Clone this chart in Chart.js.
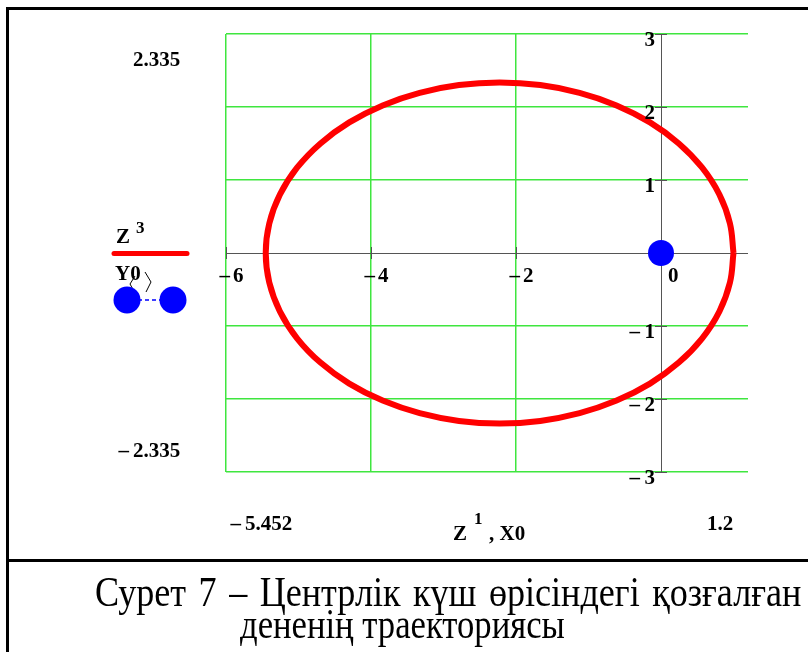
<!DOCTYPE html>
<html>
<head>
<meta charset="UTF-8">
<title>Траектория</title>
<script src="https://cdn.jsdelivr.net/npm/chart.js"></script>
<style>
  body { margin: 0; background: #fff; }
  #wrap { position: relative; width: 808px; height: 652px; overflow: hidden; }
  #plot { position: absolute; left: 0; top: 0; }
  .rule { position: absolute; background: #000; }
  .cap { position: absolute; font-family: 'Liberation Serif', 'Times New Roman', serif; font-size: 42px; white-space: nowrap; color: #000; line-height: 1; transform: scaleX(0.86); transform-origin: 0 0; }
</style>
</head>
<body>
<div id="wrap">
  <canvas id="plot" width="808" height="560"></canvas>
  <div class="rule" style="left:6px;top:7px;width:802px;height:3px"></div>
  <div class="rule" style="left:6px;top:7px;width:3px;height:645px"></div>
  <div class="rule" style="left:6px;top:559px;width:802px;height:3px"></div>
  <div class="cap" style="left:95px;top:571px;word-spacing:4px">Сурет 7 – Центрлік күш өрісіндегі қозғалған</div>
  <div class="cap" style="left:240px;top:603px;transform:scaleX(0.825)">дененің траекториясы</div>
</div>

<script>
  // orbit Z<1>, Z<3> (closed loop, every 10 degrees)
  const trajX = [1.000, 0.951, 0.806, 0.568, 0.245, -0.152, -0.613, -1.123, -1.666, -2.226,
                 -2.786, -3.329, -3.839, -4.300, -4.697, -5.020, -5.257, -5.403, -5.452,
                 -5.403, -5.257, -5.020, -4.697, -4.300, -3.839, -3.329, -2.786, -2.226,
                 -1.666, -1.123, -0.613, -0.152, 0.245, 0.568, 0.806, 0.951, 1.000];
  const trajY = [0.000, 0.405, 0.799, 1.168, 1.501, 1.789, 2.022, 2.194, 2.300, 2.335,
                 2.300, 2.194, 2.022, 1.789, 1.501, 1.168, 0.799, 0.405, 0.000,
                 -0.405, -0.799, -1.168, -1.501, -1.789, -2.022, -2.194, -2.300, -2.335,
                 -2.300, -2.194, -2.022, -1.789, -1.501, -1.168, -0.799, -0.405, 0.000];
  // force centre X0, Y0
  const centreX = [0];
  const centreY = [0];

  const xTicks = [-6, -4, -2, 0];
  const yTicks = [-3, -2, -1, 0, 1, 2, 3];
  const xLimits = [-5.452, 1.2];
  const yLimits = [-2.335, 2.335];

  const GREEN = '#3fe63f';
  const AXIS = '#555555';
  const BOLD = "bold 21px 'Liberation Serif', serif";
  const SUP = "bold 17px 'Liberation Serif', serif";

  function boldText(ctx, s, x, y, align, font) {
    ctx.font = font || BOLD;
    ctx.textAlign = align || 'left';
    ctx.textBaseline = 'alphabetic';
    ctx.fillText(s, x, y);
  }

  const mathcadFrame = {
    id: 'mathcadFrame',
    beforeDatasetsDraw(chart) {
      const { ctx, chartArea: a, scales: { x, y } } = chart;
      const x0 = x.getPixelForValue(0), y0 = y.getPixelForValue(0);
      ctx.save();
      ctx.strokeStyle = AXIS;
      ctx.lineWidth = 1;
      ctx.beginPath();
      ctx.moveTo(a.left, y0 + 0.5); ctx.lineTo(a.right, y0 + 0.5);
      ctx.moveTo(x0 + 0.5, a.top); ctx.lineTo(x0 + 0.5, a.bottom);
      xTicks.forEach(v => {
        if (v === 0) return;
        const px = Math.round(x.getPixelForValue(v)) + 0.5;
        ctx.moveTo(px, y0 - 6); ctx.lineTo(px, y0 + 6);
      });
      yTicks.forEach(v => {
        if (v === 0) return;
        const py = Math.round(y.getPixelForValue(v)) + 0.5;
        ctx.moveTo(x0 - 6, py); ctx.lineTo(x0 + 6, py);
      });
      ctx.stroke();
      ctx.restore();
    },
    afterDraw(chart) {
      const { ctx, scales: { x, y } } = chart;
      const x0 = x.getPixelForValue(0), y0 = y.getPixelForValue(0);
      ctx.save();
      ctx.fillStyle = '#000';

      // axis numbers
      xTicks.forEach(v => {
        const px = x.getPixelForValue(v);
        boldText(ctx, String(Math.abs(v)), px + 7, y0 + 29);
        if (v < 0) boldText(ctx, '–', px + 4, y0 + 29, 'right');
      });
      yTicks.forEach(v => {
        if (v === 0) return;
        const py = y.getPixelForValue(v);
        boldText(ctx, String(Math.abs(v)), x0 - 6, py + 12, 'right');
        if (v < 0) boldText(ctx, '–', x0 - 21, py + 12, 'right');
      });

      // plot limits
      boldText(ctx, yLimits[1].toFixed(3), 133, 66);
      boldText(ctx, yLimits[0].toFixed(3).replace('-', ''), 133, 457);
      boldText(ctx, '–', 129, 457, 'right');
      boldText(ctx, xLimits[0].toFixed(3).replace('-', ''), 245, 530);
      boldText(ctx, '–', 241, 530, 'right');
      boldText(ctx, String(xLimits[1]), 707, 530);

      // x axis name
      boldText(ctx, 'Z', 453, 540);
      boldText(ctx, '1', 474, 524, 'left', SUP);
      boldText(ctx, ', X0', 489, 540);

      // y axis names with their trace samples
      boldText(ctx, 'Z', 116, 243);
      boldText(ctx, '3', 136, 233, 'left', SUP);
      ctx.strokeStyle = '#ff0000';
      ctx.lineWidth = 5;
      ctx.lineCap = 'round';
      ctx.beginPath();
      ctx.moveTo(114, 253.5); ctx.lineTo(187, 253.5);
      ctx.stroke();

      boldText(ctx, 'Y0', 115, 280);
      ctx.strokeStyle = '#000';
      ctx.lineWidth = 1;
      ctx.lineCap = 'butt';
      ctx.beginPath();
      ctx.moveTo(135, 276); ctx.lineTo(130, 284); ctx.lineTo(135, 293);
      ctx.moveTo(145, 272); ctx.lineTo(151, 282); ctx.lineTo(146, 292);
      ctx.stroke();

      ctx.strokeStyle = '#0000ff';
      ctx.lineWidth = 1.5;
      ctx.setLineDash([4, 3]);
      ctx.beginPath();
      ctx.moveTo(138, 300); ctx.lineTo(162, 300);
      ctx.stroke();
      ctx.setLineDash([]);
      ctx.fillStyle = '#0000ff';
      [127, 173].forEach(cx => {
        ctx.beginPath();
        ctx.arc(cx, 300, 13.5, 0, Math.PI * 2);
        ctx.fill();
      });
      ctx.restore();
    }
  };

  new Chart(document.getElementById('plot'), {
    type: 'scatter',
    data: {
      datasets: [
        {
          label: 'X0, Y0',
          data: centreX.map((v, i) => ({ x: v, y: centreY[i] })),
          pointRadius: 13,
          pointBackgroundColor: '#0000ff',
          pointBorderWidth: 0,
          showLine: false,
          order: 0
        },
        {
          label: 'Z3',
          data: trajX.map((v, i) => ({ x: v, y: trajY[i] })),
          showLine: true,
          borderColor: '#ff0000',
          borderWidth: 6,
          pointRadius: 0,
          tension: 0.4,
          fill: false,
          order: 1
        }
      ]
    },
    options: {
      responsive: false,
      animation: false,
      events: [],
      layout: { padding: { left: 226, top: 34, right: 60, bottom: 88 } },
      plugins: { legend: { display: false }, tooltip: { enabled: false } },
      scales: {
        x: {
          type: 'linear', min: -6, max: 1.2,
          afterBuildTicks: s => { s.ticks = xTicks.map(v => ({ value: v })); },
          ticks: { display: false },
          border: { display: false },
          grid: { drawTicks: false, lineWidth: 1.5, color: c => c.tick && c.tick.value === 0 ? 'rgba(0,0,0,0)' : GREEN }
        },
        y: {
          type: 'linear', min: -3, max: 3,
          afterBuildTicks: s => { s.ticks = yTicks.map(v => ({ value: v })); },
          ticks: { display: false },
          border: { display: false },
          grid: { drawTicks: false, lineWidth: 1.5, color: c => c.tick && c.tick.value === 0 ? 'rgba(0,0,0,0)' : GREEN }
        }
      }
    },
    plugins: [mathcadFrame]
  });
</script>
</body>
</html>
